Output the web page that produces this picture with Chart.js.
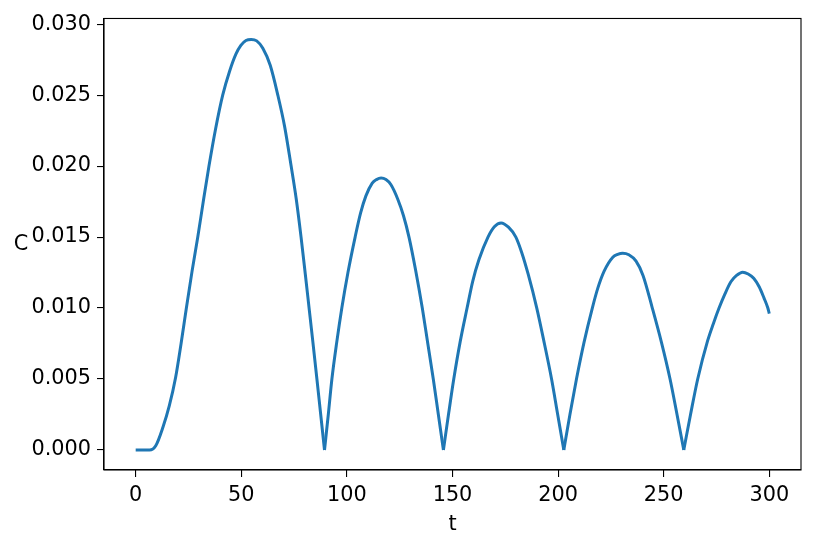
<!DOCTYPE html>
<html>
<head>
<meta charset="utf-8">
<script src="https://cdn.jsdelivr.net/npm/chart.js@4.4.0/dist/chart.umd.min.js"></script>
<style>
  html, body { margin: 0; padding: 0; background: #fff; }
  #wrap { width: 817px; height: 549px; }
</style>
</head>
<body>
<div id="wrap"><canvas id="chart" width="817" height="549"></canvas></div>
<script>
// C(t)
var tVals = [
  0, 3, 6.6, 9.5, 12.9, 15.9, 18.9, 21.5, 24.0, 26.7, 29.4, 32.0, 34.7, 37.8, 41.2, 44.5, 47.5, 49.8, 52.2, 54.7, 57.3, 60.2, 63.7, 67.3, 70.5, 73.6, 76.0, 78.3, 80.3, 82.1, 83.9, 85.8, 87.6, 89.4,
  91.2, 92.9, 95.2, 97.6, 100.5, 103.9, 106.5, 109.0, 112.0, 114.0, 116.2, 118.5, 120.8, 124.0, 126.8, 129.4, 132.5, 135.7, 138.3, 140.9, 143.3, 145.7,
  148.2, 150.6, 153.6, 156.9, 159.6, 162.5, 166.8, 169.8, 173.0, 176.5, 180.0, 182.8, 185.8, 189.9, 193.5, 196.9, 199.8, 202.7,
  205.6, 208.7, 212.3, 216.2, 218.8, 221.8, 225.9, 228.2, 230.6, 233.5, 236.9, 240.2, 244.6, 248.9, 253.0, 256.3, 259.5,
  262.7, 266.1, 270.8, 273.5, 276.2, 279.0, 281.8, 284.5, 287.4, 290.0, 292.6, 295.2, 297.5, 299.3, 300
];
var cVals = [
  0, 0, 0, 0.0003, 0.0016, 0.0031, 0.0051, 0.0075, 0.010, 0.0126, 0.015, 0.0175, 0.020, 0.0226, 0.025, 0.0267, 0.0279, 0.0285, 0.02885, 0.02892, 0.02882, 0.0283, 0.0271, 0.025, 0.0228, 0.020, 0.0177, 0.015, 0.0124, 0.010, 0.0076, 0.005, 0.0025, 0,
  0.0025, 0.005, 0.0076, 0.010, 0.0125, 0.015, 0.0167, 0.0179, 0.0188, 0.01905, 0.01916, 0.01905, 0.0187, 0.0177, 0.0165, 0.015, 0.0127, 0.010, 0.0075, 0.005, 0.0025, 0,
  0.0026, 0.005, 0.0076, 0.010, 0.0119, 0.0134, 0.015, 0.01573, 0.0160, 0.0157, 0.015, 0.0139, 0.0124, 0.010, 0.0075, 0.005, 0.0025, 0,
  0.0025, 0.005, 0.0076, 0.010, 0.0114, 0.0126, 0.01358, 0.01378, 0.01386, 0.01375, 0.0133, 0.0123, 0.010, 0.0076, 0.005, 0.0025, 0,
  0.0025, 0.005, 0.0077, 0.0089, 0.010, 0.0110, 0.01185, 0.0123, 0.01253, 0.0124, 0.0121, 0.0115, 0.0107, 0.0100, 0.0096
];
var xTicks = [0, 50, 100, 150, 200, 250, 300];
var yTicks = [0, 0.005, 0.010, 0.015, 0.020, 0.025, 0.030];
var xLabel = 't';
var yLabel = 'C';

var blue = '#1f77b4';
var fontFam = "'DejaVu Sans', sans-serif";
var fs = 20.8;

// separa em arcos nos zeros (bicos), para manter as pontas agudas
var arcos = [[]];
tVals.forEach(function(t, i) {
  var p = { x: t, y: cVals[i] };
  arcos[arcos.length - 1].push(p);
  if (cVals[i] === 0 && i > 0 && i < tVals.length - 1 && cVals[i - 1] > 0 && cVals[i + 1] > 0) {
    arcos.push([p]);
  }
});

var datasets = arcos.map(function(pts) {
  return {
    data: pts,
    borderColor: blue,
    borderWidth: 3,
    pointRadius: 0,
    cubicInterpolationMode: 'monotone',
    borderJoinStyle: 'round',
    fill: false
  };
});

// fundo branco, moldura e rótulo "C" na horizontal
var extras = {
  id: 'extras',
  beforeDraw: function(chart) {
    var ctx = chart.ctx;
    ctx.save();
    ctx.fillStyle = '#fff';
    ctx.fillRect(0, 0, chart.width, chart.height);
    ctx.restore();
  },
  afterDraw: function(chart) {
    var ctx = chart.ctx, a = chart.chartArea;
    ctx.save();
    ctx.strokeStyle = '#000';
    ctx.lineWidth = 1.1;
    ctx.strokeRect(a.left, a.top, a.right - a.left, a.bottom - a.top);
    ctx.fillStyle = '#000';
    ctx.font = fs + 'px ' + fontFam;
    ctx.textAlign = 'center';
    ctx.textBaseline = 'middle';
    ctx.fillText(yLabel, 21, (a.top + a.bottom) / 2);
    ctx.restore();
  }
};

new Chart(document.getElementById('chart'), {
  type: 'line',
  data: { datasets: datasets },
  options: {
    responsive: false,
    animation: false,
    events: [],
    layout: { padding: { top: 16, right: 16, left: 0, bottom: 0 } },
    plugins: { legend: { display: false }, tooltip: { enabled: false } },
    scales: {
      x: {
        type: 'linear',
        min: -15, max: 315,
        afterBuildTicks: function(s) { s.ticks = xTicks.map(function(v) { return { value: v }; }); },
        afterFit: function(s) { s.height = 79; },
        grid: { drawOnChartArea: false, drawTicks: true, tickLength: 7, color: '#000', lineWidth: 1.1 },
        border: { display: true, color: '#000', width: 1.1 },
        ticks: { color: '#000', padding: 6, maxRotation: 0, font: { family: fontFam, size: fs },
          callback: function(v) { return String(v); } },
        title: { display: true, text: xLabel, color: '#000', font: { family: fontFam, size: fs }, padding: { top: 0, bottom: 12 } }
      },
      y: {
        type: 'linear',
        min: -0.00141, max: 0.0304,
        afterBuildTicks: function(s) { s.ticks = yTicks.map(function(v) { return { value: v }; }); },
        afterFit: function(s) { s.width = 104; },
        grid: { drawOnChartArea: false, drawTicks: true, tickLength: 7, color: '#000', lineWidth: 1.1 },
        border: { display: true, color: '#000', width: 1.1 },
        ticks: { color: '#000', padding: 6, font: { family: fontFam, size: fs },
          callback: function(v) { return v.toFixed(3); } }
      }
    }
  },
  plugins: [extras]
});
</script>
</body>
</html>
